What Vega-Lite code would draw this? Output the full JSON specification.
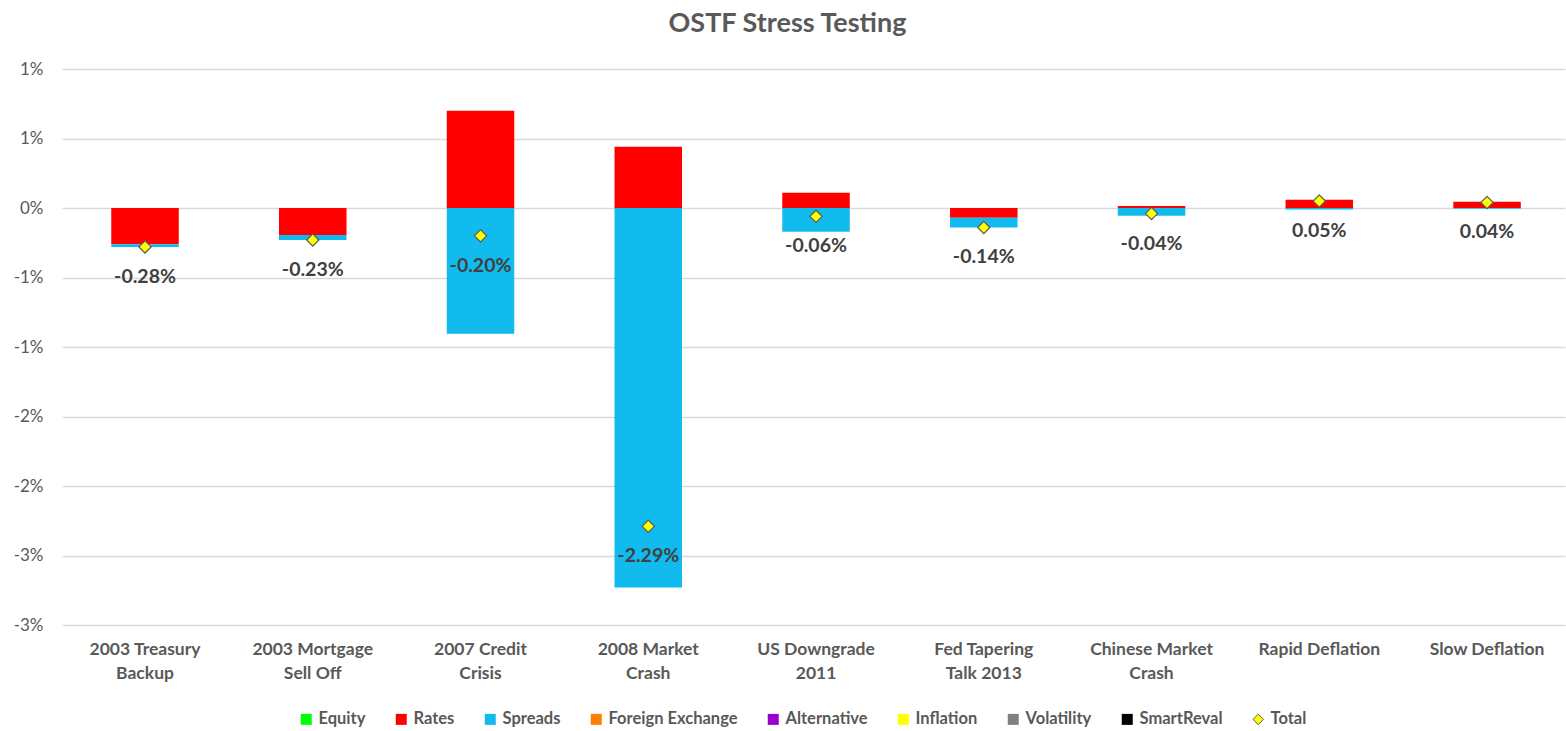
{
  "$schema": "https://vega.github.io/schema/vega-lite/v6.json",
  "autosize": {"type": "none"},
  "width": 1503,
  "height": 556,
  "padding": {"left": 62, "top": 69, "right": 1, "bottom": 106},
  "background": "white",
  "config": {
    "font": "Lato",
    "view": {"stroke": null}
  },
  "title": {
    "text": "OSTF Stress Testing",
    "font": "Lato",
    "fontSize": 27,
    "fontWeight": "bold",
    "color": "#595959",
    "anchor": "middle",
    "dx": -26,
    "offset": 22
  },
  "datasets": {
    "factors": [
      {"scenario": "2003 Treasury Backup", "factor": "Rates", "value": -0.26},
      {"scenario": "2003 Treasury Backup", "factor": "Spreads", "value": -0.02},
      {"scenario": "2003 Mortgage Sell Off", "factor": "Rates", "value": -0.195},
      {"scenario": "2003 Mortgage Sell Off", "factor": "Spreads", "value": -0.035},
      {"scenario": "2007 Credit Crisis", "factor": "Rates", "value": 0.70},
      {"scenario": "2007 Credit Crisis", "factor": "Spreads", "value": -0.905},
      {"scenario": "2008 Market Crash", "factor": "Rates", "value": 0.44},
      {"scenario": "2008 Market Crash", "factor": "Spreads", "value": -2.73},
      {"scenario": "US Downgrade 2011", "factor": "Rates", "value": 0.11},
      {"scenario": "US Downgrade 2011", "factor": "Spreads", "value": -0.17},
      {"scenario": "Fed Tapering Talk 2013", "factor": "Rates", "value": -0.07},
      {"scenario": "Fed Tapering Talk 2013", "factor": "Spreads", "value": -0.07},
      {"scenario": "Chinese Market Crash", "factor": "Rates", "value": 0.015},
      {"scenario": "Chinese Market Crash", "factor": "Spreads", "value": -0.055},
      {"scenario": "Rapid Deflation", "factor": "Rates", "value": 0.06},
      {"scenario": "Rapid Deflation", "factor": "Spreads", "value": -0.01},
      {"scenario": "Slow Deflation", "factor": "Rates", "value": 0.045},
      {"scenario": "Slow Deflation", "factor": "Spreads", "value": -0.005}
    ],
    "totals": [
      {"scenario": "2003 Treasury Backup", "factor": "Total", "total": -0.28, "label": "-0.28%"},
      {"scenario": "2003 Mortgage Sell Off", "factor": "Total", "total": -0.23, "label": "-0.23%"},
      {"scenario": "2007 Credit Crisis", "factor": "Total", "total": -0.20, "label": "-0.20%"},
      {"scenario": "2008 Market Crash", "factor": "Total", "total": -2.29, "label": "-2.29%"},
      {"scenario": "US Downgrade 2011", "factor": "Total", "total": -0.06, "label": "-0.06%"},
      {"scenario": "Fed Tapering Talk 2013", "factor": "Total", "total": -0.14, "label": "-0.14%"},
      {"scenario": "Chinese Market Crash", "factor": "Total", "total": -0.04, "label": "-0.04%"},
      {"scenario": "Rapid Deflation", "factor": "Total", "total": 0.05, "label": "0.05%"},
      {"scenario": "Slow Deflation", "factor": "Total", "total": 0.04, "label": "0.04%"}
    ]
  },
  "encoding": {
    "x": {
      "field": "scenario",
      "type": "nominal",
      "sort": null,
      "scale": {
        "domain": ["2003 Treasury Backup", "2003 Mortgage Sell Off", "2007 Credit Crisis", "2008 Market Crash", "US Downgrade 2011", "Fed Tapering Talk 2013", "Chinese Market Crash", "Rapid Deflation", "Slow Deflation"],
        "paddingInner": 0.5976,
        "paddingOuter": 0.2786,
        "align": 0.527
      },
      "axis": {
        "title": null,
        "labelAngle": 0,
        "domain": false,
        "ticks": false,
        "tickSize": 0,
        "labelPadding": 15,
        "labelBaseline": "top",
        "labelFont": "Lato",
        "labelFontSize": 17.5,
        "labelFontWeight": "bold",
        "labelColor": "#595959",
        "labelLineHeight": 24,
        "labelLimit": 300,
        "labelExpr": "{'2003 Treasury Backup': ['2003 Treasury', 'Backup'], '2003 Mortgage Sell Off': ['2003 Mortgage', 'Sell Off'], '2007 Credit Crisis': ['2007 Credit', 'Crisis'], '2008 Market Crash': ['2008 Market', 'Crash'], 'US Downgrade 2011': ['US Downgrade', '2011'], 'Fed Tapering Talk 2013': ['Fed Tapering', 'Talk 2013'], 'Chinese Market Crash': ['Chinese Market', 'Crash'], 'Rapid Deflation': 'Rapid Deflation', 'Slow Deflation': 'Slow Deflation'}[datum.value]"
      }
    }
  },
  "layer": [
    {
      "data": {"name": "factors"},
      "mark": {"type": "bar"},
      "encoding": {
        "y": {
          "field": "value",
          "type": "quantitative",
          "stack": "zero",
          "scale": {"domain": [-3, 1], "nice": false, "zero": false},
          "axis": {
            "title": null,
            "values": [1, 0.5, 0, -0.5, -1, -1.5, -2, -2.5, -3],
            "grid": true,
            "gridColor": "#D9D9D9",
            "gridWidth": 1.5,
            "domain": false,
            "ticks": false,
            "tickSize": 0,
            "labelPadding": 19,
            "labelFont": "Lato",
            "labelFontSize": 17,
            "labelColor": "#595959",
            "labelExpr": "(datum.value < 0 ? '-' : '') + round(abs(datum.value)) + '%'"
          }
        },
        "color": {
          "field": "factor",
          "type": "nominal",
          "scale": {
            "domain": ["Equity", "Rates", "Spreads", "Foreign Exchange", "Alternative", "Inflation", "Volatility", "SmartReval", "Total"],
            "range": ["#00FF00", "#FF0000", "#12BBEE", "#FF8000", "#9900CC", "#FFFF00", "#808080", "#000000", "#FFFF00"]
          },
          "legend": {
            "title": null,
            "orient": "none",
            "direction": "horizontal",
            "legendX": 236,
            "legendY": 642,
            "columns": 9,
            "columnPadding": 27,
            "symbolSize": 121,
            "symbolType": "square",
            "symbolStrokeWidth": 1,
            "labelFont": "Lato",
            "labelFontSize": 16.5,
            "labelFontWeight": "bold",
            "labelColor": "#595959",
            "labelOffset": 4,
            "labelLimit": 300,
            "encode": {
              "symbols": {
                "update": {
                  "shape": {"signal": "datum.value === 'Total' ? 'diamond' : 'square'"},
                  "stroke": {"signal": "datum.value === 'Total' ? '#595959' : 'transparent'"},
                  "size": {"signal": "datum.value === 'Total' ? 110 : 121"}
                }
              }
            }
          }
        },
        "order": {"field": "factor", "sort": "ascending"}
      }
    },
    {
      "data": {"name": "totals"},
      "mark": {"type": "point", "shape": "diamond", "filled": true, "size": 150, "stroke": "#595959", "strokeWidth": 1.2, "opacity": 1},
      "encoding": {
        "y": {"field": "total", "type": "quantitative"},
        "color": {"field": "factor", "type": "nominal"}
      }
    },
    {
      "data": {"name": "totals"},
      "mark": {"type": "text", "dy": 30, "baseline": "middle", "align": "center", "font": "Lato", "fontSize": 19.5, "fontWeight": "bold", "color": "#404040"},
      "encoding": {
        "y": {"field": "total", "type": "quantitative"},
        "text": {"field": "label"}
      }
    }
  ]
}
